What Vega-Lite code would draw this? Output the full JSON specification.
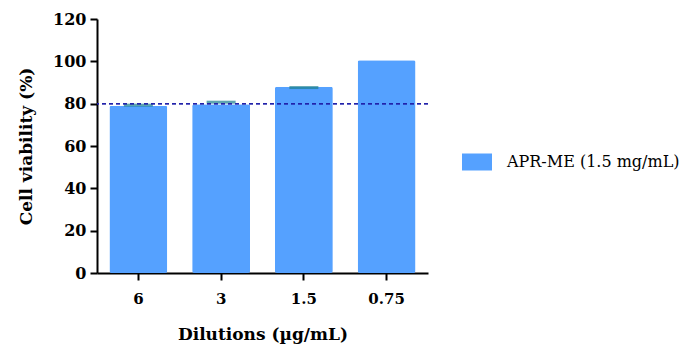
{
  "$schema": "https://vega.github.io/schema/vega-lite/v6.json",
  "autosize": {"type": "none"},
  "padding": {"left": 97, "top": 19, "right": 261, "bottom": 72},
  "width": 331,
  "height": 254,
  "background": "white",
  "config": {
    "view": {"stroke": null},
    "font": "DejaVu Serif"
  },
  "data": {
    "values": [
      {"dilution": "6", "viability": 79.0, "upper": 79.3, "series": "APR-ME (1.5 mg/mL)"},
      {"dilution": "3", "viability": 79.7, "upper": 80.7, "series": "APR-ME (1.5 mg/mL)"},
      {"dilution": "1.5", "viability": 88.0, "upper": 87.6, "series": "APR-ME (1.5 mg/mL)"},
      {"dilution": "0.75", "viability": 100.5, "upper": null, "series": "APR-ME (1.5 mg/mL)"}
    ]
  },
  "layer": [
    {
      "mark": {"type": "bar", "cornerRadius": 2},
      "encoding": {
        "x": {
          "field": "dilution", "type": "ordinal", "sort": null,
          "scale": {"paddingInner": 0.3, "paddingOuter": 0.15},
          "axis": {
            "title": "Dilutions (µg/mL)", "labelAngle": 0,
            "domainColor": "black", "domainWidth": 2,
            "tickColor": "black", "tickWidth": 2, "tickSize": 7,
            "labelFont": "DejaVu Serif", "labelFontSize": 15, "labelFontWeight": "bold", "labelColor": "black", "labelPadding": 11,
            "titleFont": "DejaVu Serif", "titleFontSize": 17, "titleFontWeight": "bold", "titleColor": "black", "titlePadding": 20
          }
        },
        "y": {
          "field": "viability", "type": "quantitative",
          "scale": {"domain": [0, 120], "nice": false},
          "axis": {
            "title": "Cell viability (%)", "values": [0, 20, 40, 60, 80, 100, 120], "grid": false,
            "domainColor": "black", "domainWidth": 2,
            "tickColor": "black", "tickWidth": 2, "tickSize": 7,
            "labelFont": "DejaVu Serif", "labelFontSize": 16, "labelFontWeight": "bold", "labelColor": "black", "labelPadding": 4,
            "titleFont": "DejaVu Serif", "titleFontSize": 17, "titleFontWeight": "bold", "titleColor": "black", "titlePadding": 17
          }
        },
        "color": {
          "field": "series", "type": "nominal",
          "scale": {"range": ["#55A1FF"]},
          "legend": {
            "title": null, "orient": "none", "legendX": 370, "legendY": 133,
            "symbolType": "M-1.5,-0.85L1.5,-0.85L1.5,0.85L-1.5,0.85Z",
            "symbolSize": 400, "symbolStrokeWidth": 0,
            "labelFont": "DejaVu Serif", "labelFontSize": 16, "labelColor": "black", "labelOffset": 20, "labelLimit": 400
          }
        }
      }
    },
    {
      "mark": {"type": "tick", "color": "#1A7F8F", "size": 29, "thickness": 3},
      "encoding": {
        "x": {"field": "dilution", "type": "ordinal", "sort": null},
        "y": {"field": "upper", "type": "quantitative"}
      }
    },
    {
      "mark": {"type": "rule", "color": "#2222AA", "strokeDash": [4, 3], "strokeWidth": 1.2},
      "encoding": {"y": {"datum": 80}}
    }
  ]
}
